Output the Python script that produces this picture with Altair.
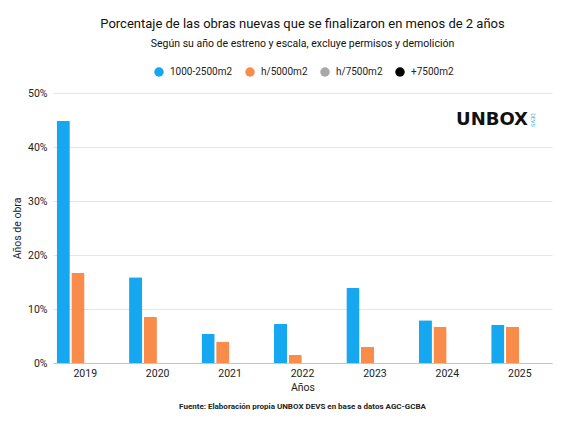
import altair as alt
import pandas as pd

years = ["2019", "2020", "2021", "2022", "2023", "2024", "2025"]
series = ["1000-2500m2", "h/5000m2", "h/7500m2", "+7500m2"]
colors = ["#15A7F0", "#F98C4A", "#A8A8A8", "#000000"]

# porcentaje (fracción) por año de estreno
v_1000_2500 = [0.448, 0.159, 0.054, 0.072, 0.139, 0.079, 0.071]
v_h5000 = [0.167, 0.085, 0.040, 0.015, 0.030, 0.067, 0.067]
v_h7500 = [None, None, None, None, None, None, None]
v_plus7500 = [None, None, None, None, None, None, None]

y_ticks = [0, 0.1, 0.2, 0.3, 0.4, 0.5]

title_text = "Porcentaje de las obras nuevas que se finalizaron en menos de 2 años"
subtitle_text = "Según su año de estreno y escala, excluye permisos y demolición"
footer_text = "Fuente: Elaboración propia UNBOX DEVS en base a datos AGC-GCBA"

FONT = "Roboto"

rows = []
for s, vals in zip(series, [v_1000_2500, v_h5000, v_h7500, v_plus7500]):
    for y, v in zip(years, vals):
        if v is not None:
            rows.append({"year": y, "serie": s, "value": v})
df = pd.DataFrame(rows)

W, H = 499, 270

bars = alt.Chart(df).mark_bar(cornerRadiusTopLeft=1, cornerRadiusTopRight=1).encode(
    x=alt.X(
        "year:N",
        sort=years,
        scale=alt.Scale(domain=years, paddingInner=0.19, paddingOuter=0.04),
        axis=alt.Axis(
            title="Años",
            labelAngle=0,
            labelFontSize=10.5,
            labelPadding=5,
            titleFontSize=10.5,
            titleFontWeight="normal",
            titlePadding=4,
            ticks=False,
            domain=True,
            domainColor="#c4c4c4",
            grid=False,
        ),
    ),
    xOffset=alt.XOffset(
        "serie:N",
        sort=series,
        scale=alt.Scale(domain=series, paddingInner=0.1, paddingOuter=0.05),
    ),
    y=alt.Y(
        "value:Q",
        scale=alt.Scale(domain=[0, 0.5], nice=False),
        axis=alt.Axis(
            title="Años de obra",
            format=".0%",
            values=y_ticks,
            labelFontSize=10.5,
            labelPadding=6,
            titleFontSize=10.5,
            titleFontWeight="normal",
            titlePadding=5,
            ticks=False,
            domain=False,
            grid=True,
            gridColor="#e4e4e4",
        ),
    ),
    color=alt.Color(
        "serie:N",
        scale=alt.Scale(domain=series, range=colors),
        legend=alt.Legend(
            title=None,
            orient="none",
            direction="horizontal",
            legendX=101,
            legendY=-26,
            symbolType="circle",
            symbolSize=90,
            symbolStrokeWidth=0,
            labelFontSize=10,
            labelOffset=6,
            columnPadding=12,
            padding=0,
        ),
    ),
)

footer = alt.Chart(pd.DataFrame({"t": [footer_text]})).mark_text(
    font=FONT, fontSize=8, fontWeight="bold", color="#222222", baseline="alphabetic", align="center"
).encode(x=alt.value(W / 2), y=alt.value(316), text="t:N")

logo = alt.Chart(pd.DataFrame({"t": ["UNBOX"]})).mark_text(
    font="DejaVu Sans", fontSize=18, fontWeight="bold", color="#111111", baseline="middle", align="center"
).encode(x=alt.value(439), y=alt.value(27), text="t:N")

devs = alt.Chart(pd.DataFrame({"t": ["DEVS"]})).mark_text(
    font="Roboto", fontSize=5.5, color="#2fb0cc", baseline="middle", align="center", angle=90
).encode(x=alt.value(480), y=alt.value(27), text="t:N")

chart = alt.layer(bars, footer, logo, devs).properties(
    width=W,
    height=H,
    title=alt.TitleParams(
        text=title_text,
        subtitle=subtitle_text,
        anchor="middle",
        frame="group",
        fontSize=13,
        fontWeight="normal",
        subtitleFontSize=10.5,
        subtitleFontWeight="normal",
        subtitleColor="#111111",
        color="#111111",
        subtitlePadding=8,
        offset=18,
    ),
    autosize=alt.AutoSizeParams(type="none"),
    padding={"left": 45, "top": 85, "right": 2, "bottom": 50},
).configure(
    font=FONT,
).configure_view(
    stroke=None
).configure_axis(
    labelColor="#222222", titleColor="#222222", labelFont=FONT, titleFont=FONT
).configure_legend(
    labelFont=FONT, labelColor="#222222"
).configure_title(
    font=FONT, subtitleFont=FONT
)

chart.save("out.html", embed_options={"renderer": "svg", "actions": False})
